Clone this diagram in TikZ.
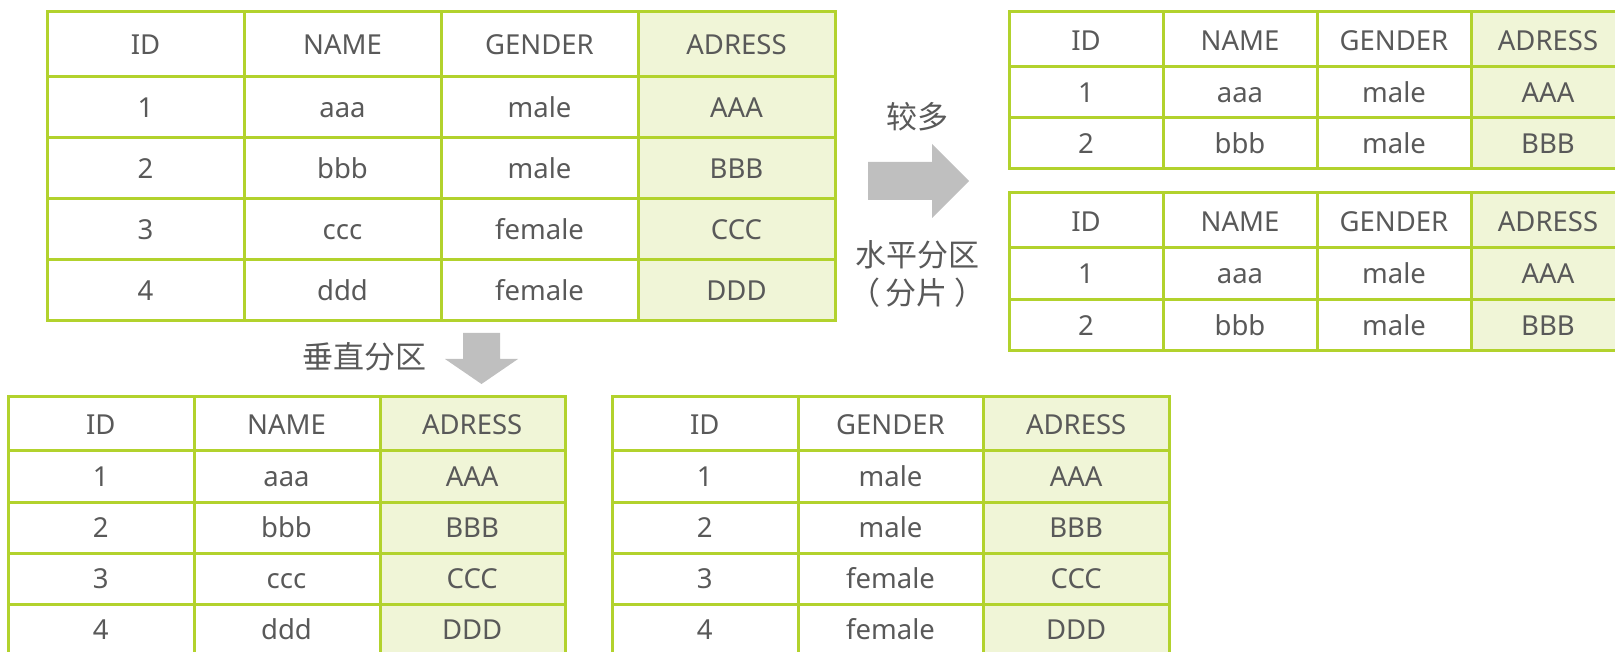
\documentclass[tikz,border=0pt]{standalone}
\usepackage{fontspec}
\setmainfont{Noto Sans}
\newfontfamily\cjk{Noto Sans CJK SC}
\definecolor{lineg}{RGB}{178,210,45}
\definecolor{adrfill}{RGB}{240,245,215}
\definecolor{txtc}{RGB}{89,89,89}
\definecolor{arrg}{RGB}{191,191,191}
\newcommand\trow[5]{\foreach \t [count=\j] in {#5} {\node[txt] (#1-\j) at ({#2+(\j-0.5)*#3},#4) {\t};}}
\begin{document}
\begin{tikzpicture}[x=1pt,y=-1pt,
  gridl/.style={draw=lineg,line width=3pt,line cap=rect},
  txt/.style={text=txtc,font=\fontsize{27.5}{30}\selectfont,inner sep=0pt,text height=20pt,text depth=0pt,anchor=center},
  cjklab/.style={text=txtc,font=\cjk\fontsize{31}{34}\selectfont,inner sep=0pt,anchor=center},
  blockarrow/.style={fill=arrg}]
\useasboundingbox (0,0) rectangle (1615,652);
\begin{scope}
\clip (0,0) rectangle (1615,652);
% ---- table A (original)
\fill[adrfill] (638,12) rectangle (835,321);
\foreach \y in {12,77,138,199,260,321} \draw[gridl] (47,\y) -- (835,\y);
\foreach \x in {47,244,441,638,835} \draw[gridl] (\x,12) -- (\x,321);
\trow{a0}{47}{197}{44.5}{ID,NAME,GENDER,ADRESS}
\trow{a1}{47}{197}{107.5}{1,aaa,male,AAA}
\trow{a2}{47}{197}{168.5}{2,bbb,male,BBB}
\trow{a3}{47}{197}{229.5}{3,ccc,female,CCC}
\trow{a4}{47}{197}{290.5}{4,ddd,female,DDD}
% ---- table B
\fill[adrfill] (1471,12) rectangle (1625,169);
\foreach \y in {12,67,118,169} \draw[gridl] (1009,\y) -- (1625,\y);
\foreach \x in {1009,1163,1317,1471,1625} \draw[gridl] (\x,12) -- (\x,169);
\trow{b0}{1009}{154}{40.5}{ID,NAME,GENDER,ADRESS}
\trow{b1}{1009}{154}{92.5}{1,aaa,male,AAA}
\trow{b2}{1009}{154}{143.5}{2,bbb,male,BBB}
% ---- table C
\fill[adrfill] (1471,193) rectangle (1625,351);
\foreach \y in {193,248,300,351} \draw[gridl] (1009,\y) -- (1625,\y);
\foreach \x in {1009,1163,1317,1471,1625} \draw[gridl] (\x,193) -- (\x,351);
\trow{c0}{1009}{154}{221.5}{ID,NAME,GENDER,ADRESS}
\trow{c1}{1009}{154}{274}{1,aaa,male,AAA}
\trow{c2}{1009}{154}{325.5}{2,bbb,male,BBB}
% ---- table D
\fill[adrfill] (380,396) rectangle (565,655);
\foreach \y in {396,450,502,553,604,655} \draw[gridl] (8,\y) -- (565,\y);
\foreach \x in {8,194,380,565} \draw[gridl] (\x,396) -- (\x,655);
\trow{d0}{8}{185.67}{424}{ID,NAME,ADRESS}
\trow{d1}{8}{185.67}{476}{1,aaa,AAA}
\trow{d2}{8}{185.67}{527.5}{2,bbb,BBB}
\trow{d3}{8}{185.67}{578.5}{3,ccc,CCC}
\trow{d4}{8}{185.67}{629.5}{4,ddd,DDD}
% ---- table E
\fill[adrfill] (983,396) rectangle (1169,655);
\foreach \y in {396,450,502,553,604,655} \draw[gridl] (612,\y) -- (1169,\y);
\foreach \x in {612,798,983,1169} \draw[gridl] (\x,396) -- (\x,655);
\trow{e0}{612}{185.67}{424}{ID,GENDER,ADRESS}
\trow{e1}{612}{185.67}{476}{1,male,AAA}
\trow{e2}{612}{185.67}{527.5}{2,male,BBB}
\trow{e3}{612}{185.67}{578.5}{3,female,CCC}
\trow{e4}{612}{185.67}{629.5}{4,female,DDD}
\end{scope}
% ---- arrows
\fill[blockarrow] (868,162) -- (932,162) -- (932,144) -- (969,181) -- (932,218) -- (932,200) -- (868,200) -- cycle;
\fill[blockarrow] (463,333) -- (500,333) -- (500,359) -- (518,359) -- (481.5,384) -- (445,359) -- (463,359) -- cycle;
% ---- labels
\node[cjklab] (more) at (917,117) {较多};
\node[cjklab] (horiz) at (917,255) {水平分区};
\node[cjklab] (shard) at (917,293) {（\kern6pt 分片\kern6pt ）};
\node[cjklab] (vert) at (364,357) {垂直分区};
\end{tikzpicture}
\end{document}
